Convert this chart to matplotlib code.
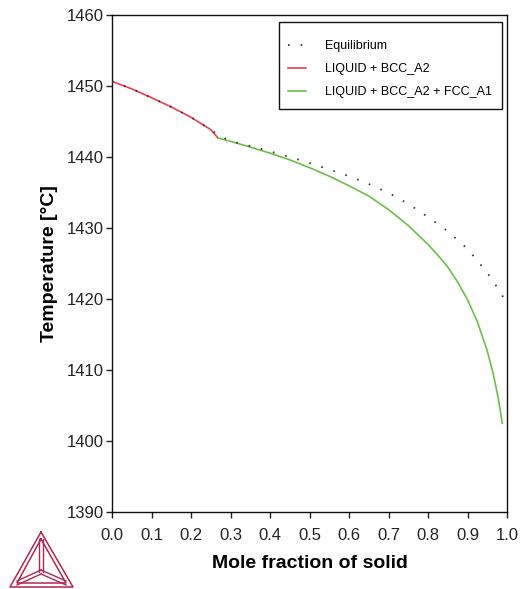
import matplotlib
matplotlib.use("Agg")
import matplotlib.pyplot as plt
from matplotlib.lines import Line2D
from matplotlib.patches import Rectangle

# Equilibrium solidification path
eq_x = [0.0, 0.05, 0.1, 0.15, 0.2, 0.25, 0.268, 0.3, 0.35, 0.4, 0.45, 0.5,
        0.55, 0.6, 0.65, 0.7, 0.75, 0.8, 0.85, 0.9, 0.95, 0.975, 1.0]
eq_T = [1450.65, 1449.6, 1448.35, 1447.05, 1445.6, 1443.85, 1443.1, 1442.25,
        1441.55, 1440.8, 1440.0, 1439.15, 1438.25, 1437.3, 1436.2, 1434.95,
        1433.4, 1431.55, 1429.55, 1427.05, 1423.7, 1421.65, 1419.4]

# Scheil path, primary BCC
bcc_x = [0.0, 0.05, 0.1, 0.15, 0.2, 0.25, 0.268]
bcc_T = [1450.65, 1449.6, 1448.35, 1447.05, 1445.6, 1443.85, 1442.7]

# Scheil path, BCC + FCC
fcc_x = [0.268, 0.3, 0.35, 0.4, 0.45, 0.5, 0.55, 0.6, 0.65, 0.7, 0.75, 0.8,
         0.83, 0.85, 0.875, 0.9, 0.925, 0.95, 0.965, 0.978, 0.988]
fcc_T = [1442.7, 1442.2, 1441.4, 1440.55, 1439.6, 1438.5, 1437.3, 1435.95,
         1434.5, 1432.6, 1430.35, 1427.7, 1425.85, 1424.5, 1422.4, 1419.9,
         1416.8, 1412.7, 1409.5, 1406.0, 1402.5]

labels = ["Equilibrium", "LIQUID + BCC_A2", "LIQUID + BCC_A2 + FCC_A1"]
x_ticks = [0.0, 0.1, 0.2, 0.3, 0.4, 0.5, 0.6, 0.7, 0.8, 0.9, 1.0]
y_ticks = [1390, 1400, 1410, 1420, 1430, 1440, 1450, 1460]

plt.rcParams["font.family"] = ["Liberation Sans", "DejaVu Sans"]

W, H = 522, 589
AX_L, AX_T, AX_W, AX_H = 112, 15, 395, 497
fig = plt.figure(figsize=(W / 100, H / 100), dpi=100)
ax = fig.add_axes([AX_L / W, 1 - (AX_T + AX_H) / H, AX_W / W, AX_H / H])


def px_to_axes(px, py):
    return (px - AX_L) / AX_W, (AX_T + AX_H - py) / AX_H


ax.plot(eq_x, eq_T, color="#333333", lw=1.3, linestyle=(0, (0.9, 6.1)),
        label=labels[0], zorder=3)
ax.plot(bcc_x, bcc_T, color="#e8414f", lw=1.2, label=labels[1], zorder=2)
ax.plot(fcc_x, fcc_T, color="#6cbf45", lw=1.2, label=labels[2], zorder=2)

ax.set_xlim(0, 1)
ax.set_ylim(1390, 1460)
ax.set_xticks(x_ticks)
ax.set_xticklabels([f"{v:.1f}" for v in x_ticks])
ax.set_yticks(y_ticks)
ax.tick_params(axis="both", direction="out", length=4, width=1, pad=2,
               labelsize=12, colors="#222222")
ax.tick_params(axis="x", pad=7.5)
for s in ax.spines.values():
    s.set_linewidth(1.0)
    s.set_color("#111111")

ax.set_xlabel("Mole fraction of solid", fontsize=14, fontweight="bold", labelpad=9)
ax.set_ylabel("Temperature [°C]", fontsize=14, fontweight="bold", labelpad=6)

# Legend box and entries
bx0, by0 = px_to_axes(279, 109)
bx1, by1 = px_to_axes(502, 22)
ax.add_patch(Rectangle((bx0, by0), bx1 - bx0, by1 - by0, transform=ax.transAxes,
                       facecolor="white", edgecolor="#111111", lw=1.0,
                       zorder=4.5, clip_on=False))
leg = ax.legend(loc="upper left", bbox_to_anchor=px_to_axes(288, 40),
                fontsize=9, frameon=False, borderpad=0, borderaxespad=0,
                labelspacing=0.88, handlelength=1.45, handletextpad=1.5)
leg.set_zorder(5)

# Logo in the lower left corner, drawn in pixel coordinates
lax = fig.add_axes([0, 0, 1, 1], zorder=-1)
lax.set_xlim(0, W)
lax.set_ylim(H, 0)
lax.axis("off")
logo_c = "#b3264f"
apex, bl, br = (41, 532), (10, 587), (73, 587)
iapex, ibl, ibr = (41, 539), (17, 583), (66, 583)
center = (41, 572)
for tri in [(apex, bl, br), (iapex, ibl, ibr)]:
    xs = [p[0] for p in tri] + [tri[0][0]]
    ys = [p[1] for p in tri] + [tri[0][1]]
    lax.add_line(Line2D(xs, ys, color=logo_c, lw=1.1))
for v, off in [(iapex, (2, 0)), (ibl, (0, 2)), (ibr, (0, 2))]:
    lax.add_line(Line2D([center[0] - off[0], v[0] - off[0]],
                        [center[1] - off[1], v[1] - off[1]], color=logo_c, lw=1.0))
    lax.add_line(Line2D([center[0] + off[0], v[0] + off[0]],
                        [center[1] + off[1], v[1] + off[1]], color=logo_c, lw=1.0))

fig.savefig("out.png", dpi=100)
